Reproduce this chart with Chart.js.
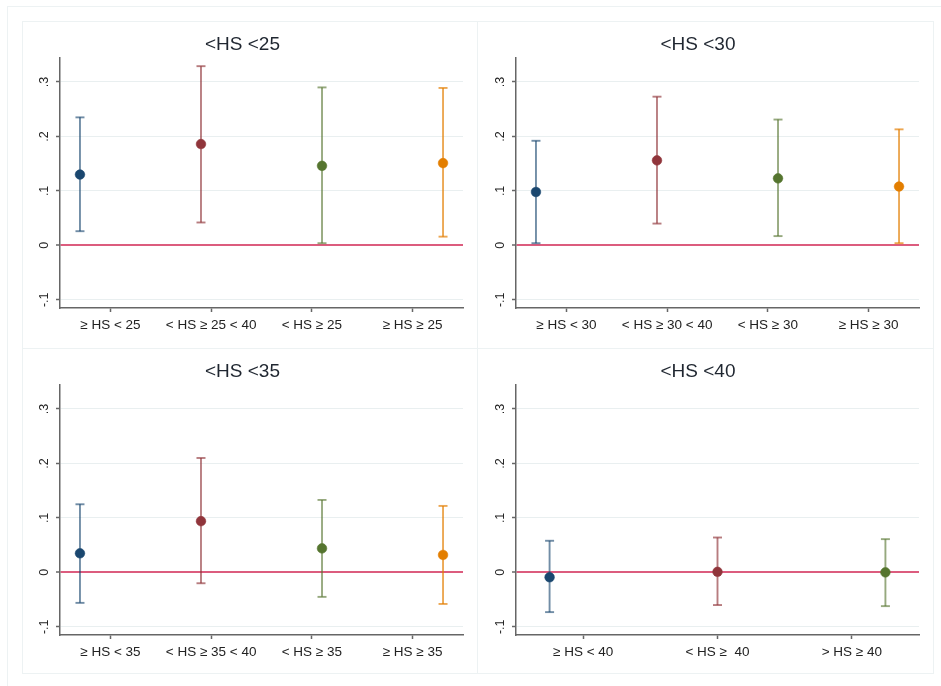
<!DOCTYPE html>
<html>
<head>
<meta charset="utf-8">
<script src="https://cdn.jsdelivr.net/npm/chart.js@4"></script>
<style>
  body { margin: 0; background: #fff; }
  .frame { position: absolute; border: 1px solid #edf2f3; box-sizing: border-box; }
  canvas { position: absolute; }
</style>
</head>
<body>
<div class="frame" style="left:7px;top:6px;width:940px;height:690px"></div>
<div class="frame" style="left:22px;top:21px;width:456px;height:328px"></div>
<div class="frame" style="left:477px;top:21px;width:457px;height:328px"></div>
<div class="frame" style="left:22px;top:348px;width:456px;height:326px"></div>
<div class="frame" style="left:477px;top:348px;width:457px;height:326px"></div>
<canvas id="c25" width="455" height="327" style="left:22px;top:21px"></canvas>
<canvas id="c30" width="456" height="327" style="left:477px;top:21px"></canvas>
<canvas id="c35" width="455" height="325" style="left:22px;top:348px"></canvas>
<canvas id="c40" width="456" height="325" style="left:477px;top:348px"></canvas>
<script>
// data (point estimate, lower and upper bound)
var yTicks = [-0.1, 0, 0.1, 0.2, 0.3];

var labels25 = ["≥ HS < 25", "< HS ≥ 25 < 40", "< HS ≥ 25", "≥ HS ≥ 25"];
var est25 = [0.130, 0.186, 0.146, 0.151];
var lo25  = [0.026, 0.042, 0.004, 0.016];
var hi25  = [0.235, 0.329, 0.290, 0.289];

var labels30 = ["≥ HS < 30", "< HS ≥ 30 < 40", "< HS ≥ 30", "≥ HS ≥ 30"];
var est30 = [0.098, 0.156, 0.123, 0.108];
var lo30  = [0.004, 0.040, 0.017, 0.004];
var hi30  = [0.192, 0.273, 0.231, 0.213];

var labels35 = ["≥ HS < 35", "< HS ≥ 35 < 40", "< HS ≥ 35", "≥ HS ≥ 35"];
var est35 = [0.035, 0.094, 0.044, 0.032];
var lo35  = [-0.056, -0.020, -0.045, -0.058];
var hi35  = [0.125, 0.210, 0.133, 0.122];

var labels40 = ["≥ HS < 40", "< HS ≥  40", "> HS ≥ 40"];
var est40 = [-0.009, 0.001, 0.000];
var lo40  = [-0.073, -0.060, -0.062];
var hi40  = [0.058, 0.064, 0.061];

var dotColors = ["#1a476f", "#90353b", "#55752f", "#e37e00"];
var barColors = ["rgba(26,71,111,0.62)", "rgba(144,53,59,0.65)", "rgba(85,117,47,0.62)", "rgba(227,126,0,0.68)"];

var FONT = "Arial, 'Liberation Sans', sans-serif";

function fmtTick(v) {
  var s = String(+v.toFixed(1));
  return s.replace("0.", ".");
}

function makePanel(id, title, labels, est, lo, hi, xPad, bottomH, leftW) {
  var datasets = [];
  for (let i = 0; i < labels.length; i++) {
    // the dot
    datasets.push({
      xAxisID: "x2", order: 0,
      data: [{x: i + 1, y: est[i]}],
      pointRadius: 4.8,
      pointBackgroundColor: dotColors[i],
      pointBorderColor: dotColors[i],
      pointBorderWidth: 0.6
    });
    // the capped interval
    datasets.push({
      xAxisID: "x2", order: 1,
      data: [{x: i + 1, y: lo[i]}, {x: i + 1, y: hi[i]}],
      showLine: true,
      borderColor: barColors[i],
      borderWidth: 1.9,
      pointStyle: "line",
      pointRadius: 4.5,
      pointBorderColor: barColors[i],
      pointBorderWidth: 1.9
    });
  }

  new Chart(document.getElementById(id), {
    type: "scatter",
    data: { datasets: datasets },
    options: {
      responsive: false,
      animation: false,
      events: [],
      layout: { padding: { right: 14 } },
      plugins: {
        legend: { display: false },
        tooltip: { enabled: false },
        title: {
          display: true,
          text: title,
          color: "#1f2630",
          font: { family: FONT, size: 19, weight: "normal" },
          padding: { top: 12.4, bottom: 1.8 }
        }
      },
      scales: {
        x: {
          type: "category",
          labels: labels,
          offset: true,
          position: "bottom",
          grid: { drawOnChartArea: false, offset: false, tickLength: 4, tickColor: "#666", tickWidth: 1.5 },
          border: { color: "#666", width: 1.5 },
          ticks: { font: { family: FONT, size: 13.5 }, color: "#222", padding: 5, maxRotation: 0, autoSkip: false },
          afterFit: function (s) { s.height = bottomH; }
        },
        x2: { type: "linear", display: false, min: 1 - xPad, max: labels.length + xPad },
        y: {
          type: "linear",
          min: -0.115,
          max: 0.344,
          afterBuildTicks: function (s) { s.ticks = yTicks.map(v => ({ value: v })); },
          ticks: {
            callback: fmtTick,
            minRotation: 90, maxRotation: 90,
            crossAlign: "center",
            padding: 4.5,
            font: { family: FONT, size: 12.5 },
            color: "#222"
          },
          grid: {
            color: c => (c.tick && c.tick.value === 0) ? "#dc5c7e" : "#e9eff0",
            lineWidth: c => (c.tick && c.tick.value === 0) ? 2 : 1,
            tickLength: 4, tickColor: "#666", tickWidth: 1.5
          },
          border: { color: "#666", width: 1.5 },
          afterFit: function (s) { s.width = leftW; }
        }
      }
    }
  });
}

makePanel("c25", "<HS <25", labels25, est25, lo25, hi25, 0.165, 40, 38);
makePanel("c30", "<HS <30", labels30, est30, lo30, hi30, 0.165, 40, 39);
makePanel("c35", "<HS <35", labels35, est35, lo35, hi35, 0.165, 38, 38);
makePanel("c40", "<HS <40", labels40, est40, lo40, hi40, 0.2, 38, 39);
</script>
</body>
</html>
